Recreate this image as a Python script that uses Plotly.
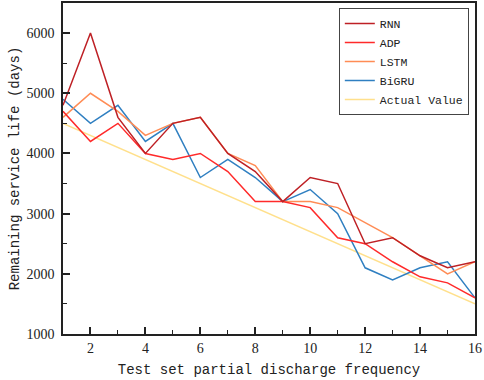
import plotly.graph_objects as go

x_vals = list(range(1, 17))
rnn = [4800, 6000, 4600, 4000, 4500, 4600, 4000, 3700, 3200, 3600, 3500, 2500, 2600, 2300, 2100, 2200]
adp = [4700, 4200, 4500, 4000, 3900, 4000, 3700, 3200, 3200, 3100, 2600, 2500, 2200, 1950, 1850, 1600]
lstm = [4600, 5000, 4700, 4300, 4500, 4600, 4000, 3800, 3200, 3200, 3100, 2850, 2600, 2300, 2000, 2200]
bigru = [4900, 4500, 4800, 4200, 4500, 3600, 3900, 3600, 3200, 3400, 3000, 2100, 1900, 2100, 2200, 1600]
actual = [4500, 4300, 4100, 3900, 3700, 3500, 3300, 3100, 2900, 2700, 2500, 2300, 2100, 1900, 1700, 1500]

series = [
    ("RNN", rnn, "#BE2025"),
    ("ADP", adp, "#FF2A2A"),
    ("LSTM", lstm, "#FF8C55"),
    ("BiGRU", bigru, "#2F7FC1"),
    ("Actual Value", actual, "#FFE08C"),
]

fig = go.Figure()
order = [4, 3, 2, 1, 0]
for i in order:
    name, vals, col = series[i]
    fig.add_trace(go.Scatter(x=x_vals, y=vals, mode="lines", name=name,
                             line=dict(color=col, width=1.5), legendrank=i + 1))

axis_font = dict(family="Liberation Serif, DejaVu Serif, serif", size=14, color="#222222")
title_font = dict(family="Liberation Mono", size=14, color="#222222")

fig.update_layout(
    width=484, height=380,
    margin=dict(l=63, r=9, t=3, b=46, autoexpand=False),
    paper_bgcolor="white", plot_bgcolor="white",
    showlegend=True,
    legend=dict(x=0.985, y=0.985, xanchor="right", yanchor="top",
                bgcolor="white", bordercolor="#444444", borderwidth=1,
                font=dict(family="Liberation Mono", size=11.5, color="#222222"),
                itemwidth=30,
                traceorder="normal", tracegroupgap=0),
    xaxis=dict(range=[1, 16], tickvals=[2, 4, 6, 8, 10, 12, 14, 16],
               ticks="inside", ticklen=7, tickcolor="#222222", tickwidth=1.5,
               minor=dict(tickvals=[3, 5, 7, 9, 11, 13, 15], ticks="inside", ticklen=4,
                          tickcolor="#222222", tickwidth=1),
               showline=True, linecolor="#222222", linewidth=1.5, mirror=True,
               showgrid=False, zeroline=False, tickfont=axis_font, automargin=False,
               ticklabeloverflow="allow",
               title=dict(text="Test set partial discharge frequency", font=title_font, standoff=10)),
    yaxis=dict(range=[1000, 6500], tickvals=[1000, 2000, 3000, 4000, 5000, 6000],
               ticks="inside", ticklen=7, tickcolor="#222222", tickwidth=1.5,
               minor=dict(tickvals=[1500, 2500, 3500, 4500, 5500], ticks="inside", ticklen=4,
                          tickcolor="#222222", tickwidth=1),
               showline=True, linecolor="#222222", linewidth=1.5, mirror=True,
               showgrid=False, zeroline=False, tickfont=axis_font, automargin=False,
               ticklabelstandoff=4,
               title=dict(text="Remaining service life (days)", font=title_font, standoff=4)),
)

fig.write_html("out.html", config={"displayModeBar": False},
               post_script="document.body.style.margin='0px';")
